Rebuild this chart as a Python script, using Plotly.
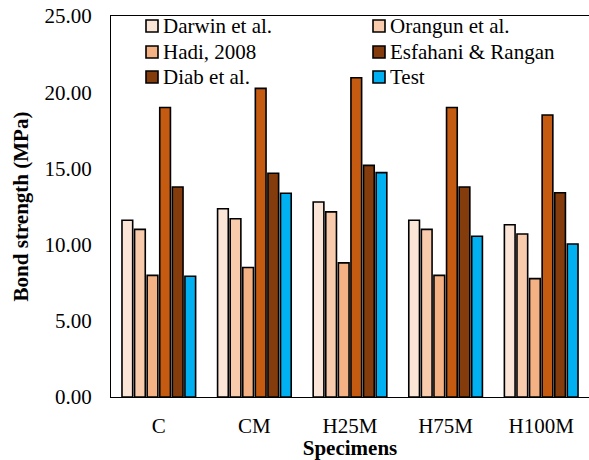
import plotly.graph_objects as go

categories = ["C", "CM", "H25M", "H75M", "H100M"]
series_names = ["Darwin et al.", "Orangun et al.", "Hadi, 2008",
                "Esfahani & Rangan", "Diab et al.", "Test"]
darwin = [11.6, 12.35, 12.8, 11.6, 11.3]
orangun = [11.0, 11.7, 12.15, 11.0, 10.7]
hadi = [7.98, 8.5, 8.8, 7.98, 7.77]
esfahani = [19.0, 20.25, 20.95, 19.0, 18.5]
diab = [13.78, 14.68, 15.2, 13.78, 13.4]
test = [7.92, 13.37, 14.72, 10.55, 10.04]
values = [darwin, orangun, hadi, esfahani, diab, test]

bar_colors = ["#FBE5D6", "#F8CBAD", "#F4B183", "#C55A11", "#843C0C", "#00B0F0"]
legend_colors = ["#FBE5D6", "#F8CBAD", "#F4B183", "#843C0C", "#843C0C", "#00B0F0"]

FONT = "Liberation Serif"

fig = go.Figure()
for name, vals, col in zip(series_names, values, bar_colors):
    fig.add_trace(go.Bar(x=categories, y=vals, name=name, showlegend=False,
                         marker=dict(color=col, line=dict(color="black", width=1.6))))

# legend drawn as a 2-column key (swatch + text) inside the plot area
W, H = 478.0, 381.0          # plot area size in px
col_x = [146, 373]           # swatch left edge (px from figure left)
row_y = [26, 52, 77]         # row centres (px from figure top)
for i, (name, col) in enumerate(zip(series_names, legend_colors)):
    cx = col_x[i % 2] - 111
    cy = 397 - row_y[i // 2]
    fig.add_shape(type="rect", xref="paper", yref="paper",
                  x0=cx / W, x1=(cx + 12) / W, y0=(cy - 6) / H, y1=(cy + 6) / H,
                  fillcolor=col, line=dict(color="black", width=1.6))
    fig.add_annotation(x=(cx + 15) / W, y=cy / H, xref="paper", yref="paper",
                       text=name.replace("&", "&amp;"), showarrow=False,
                       xanchor="left", yanchor="middle",
                       font=dict(family=FONT, size=21, color="black"))

fig.update_layout(
    width=589, height=460,
    margin=dict(l=111, r=0, t=16, b=63),
    paper_bgcolor="white", plot_bgcolor="white",
    barmode="group", bargap=0.21, bargroupgap=0.15,
    showlegend=False,
    font=dict(family=FONT, size=21, color="black"),
    xaxis=dict(showline=True, linecolor="black", linewidth=1, mirror=True,
               ticks="", showgrid=False, ticklabelstandoff=10,
               tickfont=dict(family=FONT, size=21),
               title=dict(text="<b>Specimens</b>", font=dict(family=FONT, size=21), standoff=0)),
    yaxis=dict(range=[0, 25], dtick=5, tickformat=".2f", showline=True,
               linecolor="black", linewidth=1, ticks="", showgrid=False,
               zeroline=False, ticklabelstandoff=14,
               tickfont=dict(family=FONT, size=21),
               title=dict(text="<b>Bond strength (MPa)</b>", font=dict(family=FONT, size=21), standoff=10)),
)

fig.write_html("out.html")
